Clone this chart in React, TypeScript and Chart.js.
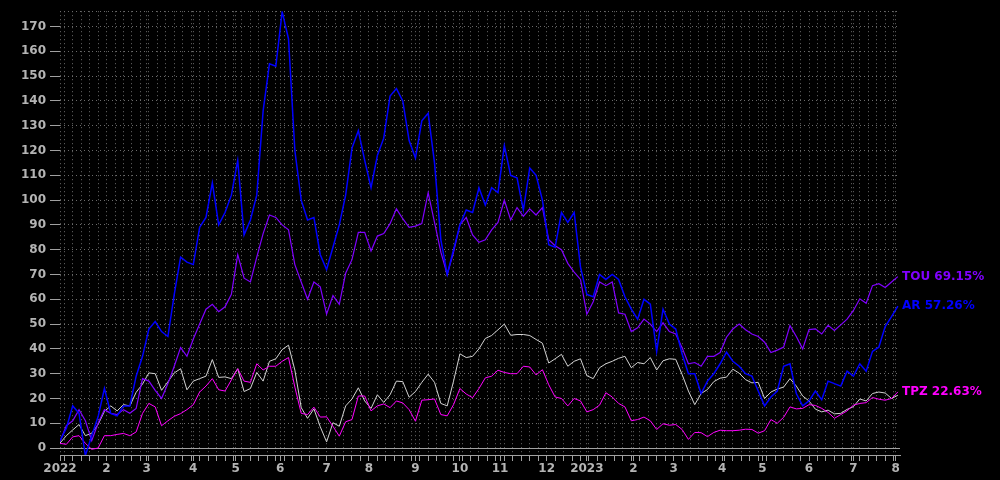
import { useEffect, useRef } from 'react';
import { Chart, registerables } from 'chart.js';

Chart.register(...registerables);

// Month starts (trading-day index) and their tick labels
const MONTH_DAYS = [0, 22, 41, 63, 83, 104, 126, 146, 168, 189, 208, 230, 249, 271, 290, 313, 332, 354, 375, 395];
const MONTH_LABELS = ['2022', '2', '3', '4', '5', '6', '7', '8', '9', '10', '11', '12', '2023', '2', '3', '4', '5', '6', '7', '8'];
const Y_TICKS = [0, 10, 20, 30, 40, 50, 60, 70, 80, 90, 100, 110, 120, 130, 140, 150, 160, 170];

// one value every 3 trading days, cumulative % return
const AR = [
  3, 8, 17, 14, -3, 5, 12.6, 24, 14, 13, 17, 17, 29, 37, 48, 51, 47, 45, 62, 77,
  75, 74, 89, 93, 107, 90, 95, 102, 116, 86, 92, 102, 136, 155, 154, 176, 165, 120, 100, 92,
  93, 78, 72, 81, 90, 102, 121, 128, 116, 105, 118, 125, 142, 145, 140, 124, 117, 132, 135, 115,
  84, 70, 80, 90, 96, 95, 105, 98, 105, 103, 122, 110, 109, 96, 113, 110, 100, 82, 81, 95,
  91, 95, 73, 62, 61, 70, 68, 70, 68, 61, 56, 52, 60, 58, 39, 56, 50, 48, 38, 30,
  30, 22, 27, 30, 34, 38.7, 35, 33, 30, 29, 23, 17, 20.6, 23, 33, 34, 22, 17, 19, 23,
  19.5, 27, 26, 25, 31, 29, 34, 31, 39, 40.7, 49, 53, 57.26,
];
const TOU = [
  2.5, 9, 11, 15.5, 11, 3, 10, 15.5, 14, 13.5, 15.5, 14, 16, 28, 27, 23.3, 20, 26, 33, 40.5,
  37, 44, 50, 56, 58, 55, 57, 62, 78, 68.5, 67, 77, 86.5, 94, 93, 90, 88, 74, 67, 60,
  67, 65, 54, 61.5, 58, 70.5, 76, 87, 87, 79.5, 85.5, 86.5, 90.5, 96.5, 92.5, 89, 89.5, 90.5, 103, 91,
  79, 70, 79, 90, 93, 86, 83, 84, 88, 91, 100, 92, 97, 93.5, 96.5, 94, 97, 84, 81.6, 80,
  74.5, 71, 68, 54, 59, 67, 65.5, 67, 54.5, 54, 47, 48.5, 52, 50, 47, 50.5, 47, 46, 40.5, 34,
  34.5, 33, 37, 37, 38.5, 44.7, 48, 50, 47.7, 46, 45, 42.7, 38.5, 39.5, 40.7, 49.4, 45, 40, 47.8, 48.1,
  46, 49.5, 47.4, 49.7, 52, 55.5, 60.2, 58.4, 65.5, 66.3, 64.8, 67, 69.15,
];
const TPZ = [
  1.9, 1.5, 4.5, 5, 1.9, -0.5, 0, 5, 5, 5.5, 5.9, 5, 6.5, 14, 18, 16.6, 9, 11, 12.8, 13.9,
  15.5, 17.5, 22.6, 25, 28, 23.5, 23, 27.5, 32, 27, 26.5, 34, 31.5, 33, 33, 35, 36.5, 24.6, 14, 13.5,
  16.5, 12.5, 12.6, 8.8, 4.8, 10.6, 11.5, 21, 21, 15, 17, 17.8, 16.3, 19, 18.2, 15.5, 10.8, 19.3, 19.5, 19.8,
  13.5, 13, 17.5, 24, 21.8, 20.3, 24, 28.3, 29, 31.4, 30.5, 30, 30, 33, 32.7, 29.5, 31.6, 25.5, 20.6, 20,
  17, 20, 19, 14.6, 15.5, 17.3, 22.3, 20.6, 18, 16.6, 11, 11.5, 12.5, 11, 7.5, 9.8, 9.2, 9.5, 7.5, 3.5,
  6.3, 6.2, 4.6, 6.3, 7.2, 7, 7, 7.2, 7.6, 7.5, 6, 7, 11.5, 10, 12.4, 16.6, 15.8, 16, 17.5, 17.2,
  16, 14.4, 12, 13.5, 15, 17.3, 18, 18.3, 20.4, 19.7, 19.3, 20, 22.63,
];
const BENCH = [
  2, 5, 7.3, 9.5, 5, 6, 9.5, 14.8, 17, 15, 17.5, 17, 22.5, 25.8, 30.3, 30, 23.3, 26.7, 30.3, 32,
  23.5, 27, 28, 29, 35.7, 28.5, 28.7, 28, 32, 22.8, 24, 30.5, 27, 35, 36, 39.7, 41.5, 31.4, 16.3, 12,
  15.8, 8.6, 2.5, 10.2, 8.8, 17, 19.8, 24.3, 19, 16, 21.5, 18.4, 21.5, 27, 26.8, 20.5, 22.8, 26.5, 29.8, 26.5,
  18, 17, 27, 38, 36.5, 37, 40, 44.2, 45.4, 47.7, 50, 45.5, 45.8, 45.8, 45.4, 43.8, 42.3, 34.3, 36, 37.8,
  33, 35, 36, 29.2, 28, 32.4, 34, 35, 36.2, 37, 32.4, 34.5, 34, 36.5, 31.5, 35.2, 36, 35.8, 29.7, 23,
  17.5, 22, 23.6, 26.8, 28.2, 28.6, 31.8, 30.2, 27.6, 26.3, 26.5, 20, 22.6, 23.8, 24.6, 28, 25, 21, 19, 15.7,
  14.6, 15.3, 13.8, 14, 15.6, 16.7, 19.8, 19, 22, 22.6, 22.2, 20, 21.3,
];

const SAMPLE_STEP = 3;
const X_MAX = 397;
const Y_MIN = -2.8;
const Y_MAX = 176.2;

const GRID = '#6a6a6a';
const AXIS = '#a0a0a0';
const TICK_TEXT = '#b4b4b4';
const FONT = { family: 'DejaVu Sans', size: 12, weight: 'bold' as const };

const SERIES = [
  { name: 'AR', values: AR, color: '#0000ff', width: 1.5, label: true },
  { name: 'TOU', values: TOU, color: '#8000ff', width: 1.2, label: true },
  { name: 'TPZ', values: TPZ, color: '#ff00ff', width: 1, label: true },
  { name: '', values: BENCH, color: '#d2d2d2', width: 1, label: false },
];

export default function App() {
  const ref = useRef<HTMLCanvasElement>(null);

  useEffect(() => {
    const canvas = ref.current;
    if (!canvas) return;
    Chart.defaults.font.family = 'DejaVu Sans';

    const days = AR.map((_, k) => k * SAMPLE_STEP);
    const minorDays: number[] = [];
    for (let d = 2; d <= X_MAX; d += 4) minorDays.push(d);
    const xTicks = Array.from(new Set([...MONTH_DAYS, ...minorDays])).sort((a, b) => a - b);
    const monthLabel = new Map(MONTH_DAYS.map((d, i) => [d, MONTH_LABELS[i]]));
    const yTicks = [Y_MIN, ...Y_TICKS, Y_MAX];

    const zeroLine = {
      id: 'zeroLine',
      beforeDatasetsDraw(chart: any) {
        const { ctx, chartArea, scales } = chart;
        const y = Math.round(scales.y.getPixelForValue(0)) + 0.5;
        ctx.save();
        ctx.strokeStyle = AXIS;
        ctx.lineWidth = 1;
        ctx.beginPath();
        ctx.moveTo(chartArea.left, y);
        ctx.lineTo(chartArea.right, y);
        ctx.stroke();
        ctx.restore();
      },
    };

    const endLabels = {
      id: 'endLabels',
      afterDatasetsDraw(chart: any) {
        const { ctx, chartArea, scales } = chart;
        ctx.save();
        ctx.font = `bold ${FONT.size}px "DejaVu Sans"`;
        ctx.textBaseline = 'middle';
        ctx.textAlign = 'left';
        SERIES.forEach((s) => {
          if (!s.label) return;
          const last = s.values[s.values.length - 1];
          const y = scales.y.getPixelForValue(last);
          ctx.fillStyle = s.color;
          ctx.fillText(`${s.name} ${last.toFixed(2)}%`, chartArea.right + 2, y);
        });
        ctx.restore();
      },
    };

    const chart = new Chart(canvas, {
      type: 'line',
      data: {
        datasets: SERIES.map((s, i) => ({
          label: s.name,
          data: s.values.map((v, k) => ({ x: days[k], y: v })),
          borderColor: s.color,
          backgroundColor: s.color,
          borderWidth: s.width,
          pointRadius: 0,
          tension: 0,
          fill: false,
          order: i,
        })),
      },
      options: {
        animation: false,
        responsive: false,
        maintainAspectRatio: false,
        layout: { padding: { left: 0, right: 100, top: 10, bottom: 0 } },
        plugins: { legend: { display: false }, tooltip: { enabled: false } },
        scales: {
          x: {
            type: 'linear',
            min: 0,
            max: X_MAX,
            afterBuildTicks: (scale: any) => {
              scale.ticks = xTicks.map((v) => ({ value: v }));
            },
            afterFit: (scale: any) => {
              scale.height = 25;
            },
            grid: {
              color: GRID,
              lineWidth: 1,
              drawTicks: true,
              tickLength: 6,
              tickColor: AXIS,
              tickWidth: 1,
              tickBorderDash: [],
            },
            border: { display: true, color: AXIS, width: 1, dash: [1, 3] },
            ticks: {
              autoSkip: false,
              maxRotation: 0,
              minRotation: 0,
              padding: 1,
              color: TICK_TEXT,
              font: FONT,
              callback: (v: any) => monthLabel.get(Number(v)) ?? '',
            },
          },
          y: {
            type: 'linear',
            min: Y_MIN,
            max: Y_MAX,
            afterBuildTicks: (scale: any) => {
              scale.ticks = yTicks.map((v) => ({ value: v }));
            },
            afterFit: (scale: any) => {
              scale.width = 60;
            },
            grid: {
              color: GRID,
              lineWidth: 1,
              drawTicks: true,
              tickLength: 10,
              tickWidth: 1,
              tickBorderDash: [],
              tickColor: (ctx: any) => (Y_TICKS.includes(ctx.tick?.value) ? AXIS : 'rgba(0,0,0,0)'),
            },
            border: { display: false, dash: [1, 3] },
            ticks: {
              padding: 4,
              color: TICK_TEXT,
              font: FONT,
              callback: (v: any) => (Y_TICKS.includes(Number(v)) ? String(v) : ''),
            },
          },
        },
      },
      plugins: [zeroLine, endLabels],
    });

    return () => chart.destroy();
  }, []);

  return (
    <div style={{ position: 'fixed', left: 0, top: 0, width: 1000, height: 480, background: '#000' }}>
      <canvas ref={ref} width={1000} height={480} style={{ display: 'block' }} />
    </div>
  );
}
